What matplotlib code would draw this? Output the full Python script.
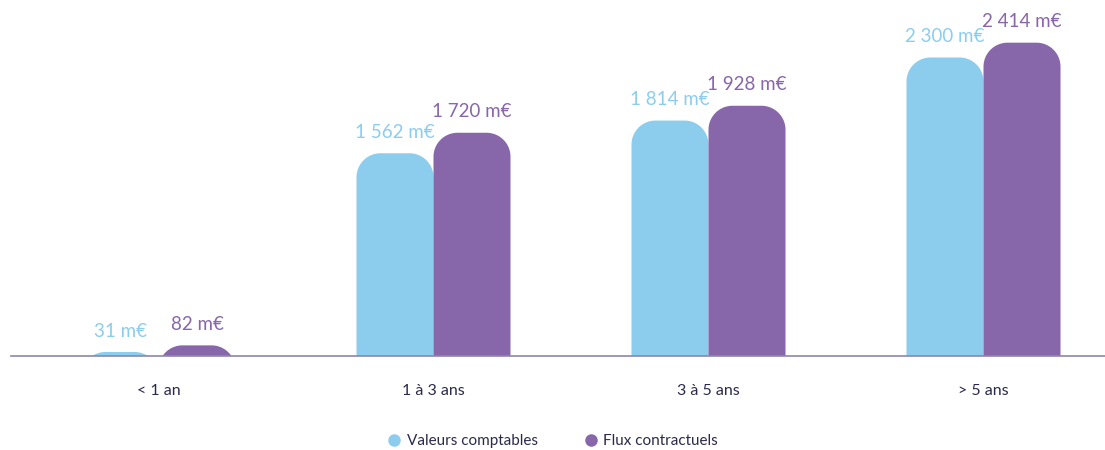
import matplotlib
matplotlib.use("Agg")
import matplotlib.pyplot as plt
from matplotlib.path import Path
from matplotlib.patches import PathPatch
from matplotlib.lines import Line2D
import numpy as np

categories = ["< 1 an", "1 à 3 ans", "3 à 5 ans", "> 5 ans"]
valeurs_comptables = [31, 1562, 1814, 2300]
flux_contractuels = [82, 1720, 1928, 2414]
series_names = ["Valeurs comptables", "Flux contractuels"]
value_labels_vc = ["31 m€", "1 562 m€", "1 814 m€", "2 300 m€"]
value_labels_fc = ["82 m€", "1 720 m€", "1 928 m€", "2 414 m€"]

BLUE = "#8ccdee"
PURPLE = "#8866aa"
DARK = "#2b2a4c"
AXIS = "#8c86b0"

plt.rcParams['font.family'] = ['Lato', 'DejaVu Sans']

W, H = 1105, 450
fig = plt.figure(figsize=(W / 100, H / 100), dpi=100)
base_px = 356
ax = fig.add_axes([11 / W, (H - base_px) / H, (W - 11) / W, base_px / H])

px_per_x = 275.0
px_per_y = 0.12979
x_left = (11 - 158.5) / px_per_x
x_right = (W - 158.5) / px_per_x
ax.set_xlim(x_left, x_right)
ax.set_ylim(0, base_px / px_per_y)

bar_w = 77 / px_per_x
r_px = 24
rx = r_px / px_per_x
ry = r_px / px_per_y


def rounded_bar(xc, top, color):
    x0 = xc - bar_w / 2
    x1 = xc + bar_w / 2
    bottom = min(0, top - ry) - 50
    verts = [(x0, bottom)]
    for t in np.linspace(np.pi, np.pi / 2, 30):
        verts.append((x0 + rx + rx * np.cos(t), top - ry + ry * np.sin(t)))
    for t in np.linspace(np.pi / 2, 0, 30):
        verts.append((x1 - rx + rx * np.cos(t), top - ry + ry * np.sin(t)))
    verts.append((x1, bottom))
    verts.append((x0, bottom))
    codes = [Path.MOVETO] + [Path.LINETO] * (len(verts) - 2) + [Path.CLOSEPOLY]
    patch = PathPatch(Path(verts, codes), facecolor=color, edgecolor='none', zorder=2)
    ax.add_patch(patch)


x = np.arange(len(categories))
for i in range(len(categories)):
    xb = x[i] - bar_w / 2
    xp = x[i] + bar_w / 2
    rounded_bar(xb, valeurs_comptables[i], BLUE)
    rounded_bar(xp, flux_contractuels[i], PURPLE)
    ax.annotate(value_labels_vc[i], (xb, valeurs_comptables[i]), xytext=(0, 11),
                textcoords='offset points', ha='center', va='baseline',
                fontsize=13.5, color=BLUE, annotation_clip=False)
    ax.annotate(value_labels_fc[i], (xp, flux_contractuels[i]), xytext=(0, 11),
                textcoords='offset points', ha='center', va='baseline',
                fontsize=13.5, color=PURPLE, annotation_clip=False)

for s in ['top', 'left', 'right']:
    ax.spines[s].set_visible(False)
ax.spines['bottom'].set_color(AXIS)
ax.spines['bottom'].set_linewidth(1.2)
ax.set_yticks([])
ax.set_xticks(x)
ax.set_xticklabels(categories, fontsize=11.5, color=DARK)
ax.tick_params(axis='x', length=0, pad=20)

handles = [Line2D([], [], marker='o', linestyle='none', markersize=9,
                  markerfacecolor=c, markeredgecolor='none') for c in (BLUE, PURPLE)]
fig.legend(handles, series_names, loc='center', bbox_to_anchor=(0.5, 1 - 441 / H),
           ncol=2, frameon=False, fontsize=11, labelcolor=DARK,
           handletextpad=0.3, columnspacing=3.0, handlelength=1.0)

fig.savefig("out.png", dpi=100)
